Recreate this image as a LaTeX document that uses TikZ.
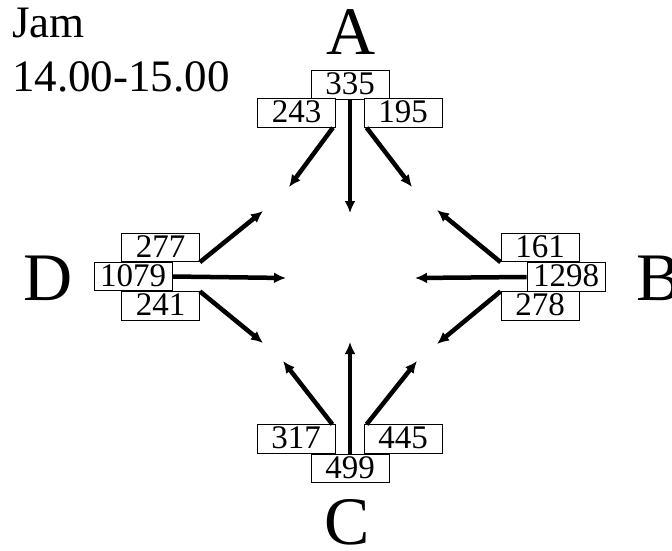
\documentclass[tikz,border=0pt]{standalone}
\usepackage{fontspec}
\setmainfont{Liberation Serif}
\usetikzlibrary{arrows.meta}

\begin{document}
\begin{tikzpicture}[x=1pt,y=-1pt,
      cnt/.style={draw,fill=white,line width=0.8pt,minimum width=78pt,minimum height=28.5pt,inner sep=0pt,
        text height=24pt,text depth=4.5pt,font=\fontsize{33}{40}\selectfont},
      leg/.style={inner sep=0pt,anchor=base,font=\fontsize{68}{80}\selectfont},
      flow/.style={line width=4.5pt,-{Latex[length=12pt,width=11pt]}}]
    \useasboundingbox (0,0) rectangle (672,551);
    \node[align=left,anchor=north west,inner sep=0pt,font=\fontsize{45}{54}\selectfont] (title) at (12,8) {Jam\\14.00-15.00};
    % leg names
    \node[leg] (labA) at (351,55) {A};
    \node[leg,anchor=base west] (labB) at (636,300) {B};
    \node[leg] (labC) at (347,544) {C};
    \node[leg] (labD) at (48,300) {D};
    % counts
    \node[cnt] (a335) at (350,85) {335};
    \node[cnt] (a243) at (296.5,113) {243};
    \node[cnt] (a195) at (403,113) {195};
    \node[cnt] (d277) at (160.5,247.5) {277};
    \node[cnt] (d1079) at (133,276.5) {1079};
    \node[cnt] (d241) at (160.5,306) {241};
    \node[cnt] (b161) at (540,247.5) {161};
    \node[cnt] (b1298) at (566,277) {1298};
    \node[cnt] (b278) at (540,306) {278};
    \node[cnt] (c317) at (296,439) {317};
    \node[cnt] (c445) at (403,439) {445};
    \node[cnt] (c499) at (350,468.5) {499};
    % arrow tips
    \coordinate (aL) at (289,187);
    \coordinate (aM) at (350,213);
    \coordinate (aR) at (412,187);
    \coordinate (dT) at (263,211);
    \coordinate (dM) at (286,278);
    \coordinate (dB) at (263,343);
    \coordinate (bT) at (437,210);
    \coordinate (bM) at (415,278);
    \coordinate (bB) at (437,344);
    \coordinate (cL) at (283,361);
    \coordinate (cM) at (350,342);
    \coordinate (cR) at (417,361);
    % movements
    \draw[flow] ([xshift=-3pt]a243.south east) -- (aL);
    \draw[flow] (a335.south) -- (aM);
    \draw[flow] ([xshift=3pt]a195.south west) -- (aR);
    \draw[flow] (d277.south east) -- (dT);
    \draw[flow] (d1079.east) -- (dM);
    \draw[flow] (d241.north east) -- (dB);
    \draw[flow] (b161.south west) -- (bT);
    \draw[flow] (b1298.west) -- (bM);
    \draw[flow] (b278.north west) -- (bB);
    \draw[flow] ([xshift=-3pt]c317.north east) -- (cL);
    \draw[flow] (c499.north) -- (cM);
    \draw[flow] ([xshift=3pt]c445.north west) -- (cR);
  \end{tikzpicture}
\end{document}
